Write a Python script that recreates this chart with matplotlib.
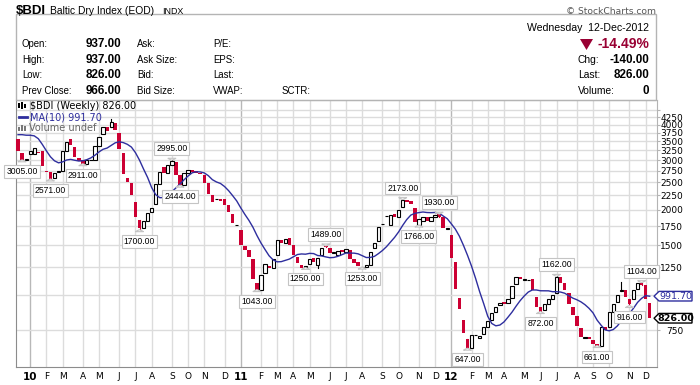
import numpy as np
import pandas as pd
import matplotlib
matplotlib.use("Agg")
import matplotlib.pyplot as plt
from matplotlib.patches import Rectangle, Polygon
from matplotlib.ticker import FixedLocator, NullLocator, FixedFormatter

W, H = 700, 385

# weekly candles, week of 14-Dec-2009 .. week of 10-Dec-2012
opens = [3560, 3170, 3000, 3140, 3150, 3200, 3240, 2745, 2730, 2590,
         2720, 2745, 3230, 3550, 3345, 3040, 3000, 2911, 2990, 3000,
         3365, 3700, 3920, 3920, 4060, 3730, 3170, 2600, 2495, 2135,
         1840, 1725, 1830, 1965, 2105, 2470, 2840, 2700, 2880, 2960,
         2656, 2448, 2700, 2770, 2740, 2700, 2656, 2480, 2256, 2175,
         2180, 2180, 2079, 1940, 1762, 1695, 1490, 1440, 1335, 1097,
         1043, 1191, 1265, 1240, 1383, 1563, 1520, 1590, 1500, 1365,
         1274, 1250, 1285, 1345, 1274, 1383, 1489, 1470, 1408, 1385,
         1440, 1420, 1440, 1335, 1310, 1253, 1258, 1274, 1470, 1550,
         1776, 1895, 1770, 1930, 1890, 2040, 2166, 2150, 2030, 1766,
         1830, 1880, 1820, 1880, 1930, 1890, 1712, 1628, 1310, 975,
         812, 700, 650, 718, 705, 727, 770, 815, 871, 919,
         945, 932, 971, 1096, 1158, 1130, 1128, 1140, 984, 905,
         883, 930, 965, 1018, 1153, 1103, 1011, 908, 840, 760,
         705, 707, 690, 667, 661, 766, 770, 871, 940, 1035,
         1040, 963, 963, 1049, 1098, 1082, 937]
closes = [3240, 3005, 3020, 3230, 3300, 3170, 2860, 2720, 2571, 2700,
          2750, 3230, 3480, 3385, 3085, 2985, 2911, 3000, 3010, 3365,
          3612, 3920, 3810, 4080, 3830, 3275, 2685, 2515, 2256, 1880,
          1725, 1825, 1955, 2030, 2470, 2730, 2700, 2880, 2980, 2655,
          2448, 2690, 2760, 2720, 2710, 2685, 2480, 2280, 2135, 2185,
          2140, 2079, 1960, 1790, 1770, 1500, 1440, 1365, 1133, 1043,
          1174, 1290, 1240, 1335, 1563, 1520, 1580, 1500, 1383, 1300,
          1240, 1262, 1335, 1310, 1345, 1470, 1475, 1410, 1413, 1425,
          1420, 1450, 1335, 1300, 1265, 1258, 1274, 1420, 1530, 1735,
          1784, 1905, 1910, 1890, 2000, 2166, 2130, 2100, 1810, 1850,
          1880, 1820, 1890, 1920, 1890, 1720, 1718, 1345, 1050, 888,
          730, 650, 718, 722, 715, 768, 808, 863, 902, 938,
          927, 970, 1070, 1153, 1134, 1135, 1131, 1040, 902, 872,
          927, 963, 998, 1153, 1103, 1040, 927, 848, 775, 710,
          710, 695, 668, 661, 766, 750, 871, 927, 998, 1040,
          980, 930, 1039, 1098, 1082, 966, 826]
# closes before the first visible week, only to warm up the MA(10)
prior_closes = [3000, 3180, 3240, 3480, 4000, 4500, 4450, 4100, 3700]

# the few wicks that show
wick_idx = [23, 30, 38, 40, 74, 76, 95, 104, 111, 133, 149, 151, 154]
wick_lo = [3920, 1700, 2880, 2444, 1240, 1475, 2040, 1890, 647, 1018, 1030, 916, 1082]
wick_hi = [4209, 1840, 2995, 2656, 1345, 1489, 2173, 1930, 700, 1162, 1110, 963, 1104]

# value call-outs
note_idx = [1, 8, 16, 30, 38, 40, 59, 71, 76, 85, 95, 99, 104, 111, 129, 133, 143, 151, 154]
note_val = [3005, 2571, 2911, 1700, 2995, 2444, 1043, 1250, 1489, 1253, 2173, 1766, 1930,
            647, 872, 1162, 661, 916, 1104]
note_up = [0, 0, 0, 0, 1, 0, 0, 0, 1, 0, 1, 0, 1, 0, 0, 1, 0, 0, 1]

y_ticks = [750, 1000, 1250, 1500, 1750, 2000, 2250, 2500, 2750, 3000, 3250, 3500, 3750, 4000, 4250, 4500]
y_labels = ["750", "", "1250", "1500", "1750", "2000", "2250", "2500", "2750", "3000",
            "3250", "3500", "3750", "4000", "4250", ""]

head_labels = ["Open:", "High:", "Low:", "Prev Close:"]
head_values = ["937.00", "937.00", "826.00", "966.00"]
head_col2 = ["Ask:", "Ask Size:", "Bid:", "Bid Size:"]
head_col3 = ["P/E:", "EPS:", "Last:", "VWAP:"]
right_labels = ["Chg:", "Last:", "Volume:"]
right_values = ["-140.00", "826.00", "0"]

RED = "#cc0033"
NAVY = "#2e2e9e"
GRID = "#dcdcdc"

dates = pd.date_range("2009-12-14", periods=len(closes), freq="W-MON")
x = np.arange(len(closes))
o = np.array(opens, float)
c = np.array(closes, float)
ma = pd.Series(prior_closes + closes).rolling(10).mean().iloc[len(prior_closes):].values

fig = plt.figure(figsize=(W / 100, H / 100), dpi=100)


def fpos(px, py):
    return px / W, 1 - py / H


ax = fig.add_axes([16 / W, 1 - 367 / H, (657 - 16) / W, (367 - 100) / H])
ax.set_yscale("log")
ax.set_ylim(555, 4895)
ax.set_xlim(-0.5, 157.8)

# month grid
month_idx, month_lab, is_year = [], [], []
for i, d in enumerate(dates):
    if i == 0 or d.month != dates[i - 1].month:
        if i == 0 and d.day > 7:
            continue
        month_idx.append(i)
        if d.month == 1:
            month_lab.append(d.strftime("%y"))
            is_year.append(True)
        else:
            month_lab.append(d.strftime("%b")[0])
            is_year.append(False)
for i, yr in zip(month_idx, is_year):
    ax.axvline(i, color="#b8b8b8" if yr else GRID, lw=1, zorder=0)
for v in y_ticks:
    ax.axhline(v, color=GRID, lw=1, zorder=0)

# candles
up = c >= o
bot = np.minimum(o, c)
top = np.maximum(o, c)
hgt = np.maximum(top - bot, bot * 0.004)
for k, lo, hi in zip(wick_idx, wick_lo, wick_hi):
    ax.plot([k, k], [lo, hi], color="black" if up[k] else RED, lw=0.8, zorder=2)
ax.bar(x[~up], hgt[~up], bottom=bot[~up], width=0.88, color=RED, lw=0, zorder=3)
ax.bar(x[up], hgt[up], bottom=bot[up], width=0.8, facecolor="white",
       edgecolor="black", lw=0.8, zorder=3)

ax.plot(x, ma, color=NAVY, lw=1.0, zorder=4)

# call-outs
for k, v, u in zip(note_idx, note_val, note_up):
    ax.annotate(f"{v:.2f}", xy=(k, v), xytext=(0, 8.3 if u else -8.3),
                textcoords="offset points", ha="center", va="center",
                fontsize=6.2, family="Liberation Sans", zorder=6,
                bbox=dict(boxstyle="square,pad=0.22", fc="white", ec="#c4c4c4", lw=0.8),
                arrowprops=dict(arrowstyle="wedge,tail_width=0.9,shrink_factor=0.6",
                                fc="white", ec="#c4c4c4", lw=0.8, shrinkB=0))

# axes styling
for s in ["top", "right"]:
    ax.spines[s].set_color("#b4b4b4")
for s in ["left", "bottom"]:
    ax.spines[s].set_color("#8c8c8c")
ax.yaxis.tick_right()
ax.yaxis.set_major_locator(FixedLocator(y_ticks))
ax.yaxis.set_major_formatter(FixedFormatter(y_labels))
ax.yaxis.set_minor_locator(NullLocator())
ax.tick_params(axis="y", which="major", length=2, color="#b4b4b4", pad=16.7,
               labelsize=6.5, labelcolor="black")
for t in ax.get_yticklabels():
    t.set_horizontalalignment("right")
ax.set_xticks(month_idx)
ax.set_xticklabels(month_lab)
ax.tick_params(axis="x", length=0, pad=3.5, labelsize=6.5)
for t, yr in zip(ax.get_xticklabels(), is_year):
    if yr:
        t.set_fontweight("bold")
        t.set_fontsize(7.5)

# price / MA tags on the right
def tag(val, text, ec, tc, bold):
    fx, fy = fig.transFigure.inverted().transform(ax.transData.transform((0, val)))
    hh = 4.8 / H
    pts = [(654 / W, fy), (659 / W, fy + hh), (692 / W, fy + hh),
           (692 / W, fy - hh), (659 / W, fy - hh)]
    fig.patches.append(Polygon(pts, closed=True, transform=fig.transFigure,
                               fc="white", ec=ec, lw=1.0, zorder=5))
    fig.text(675.5 / W, fy, text, ha="center", va="center", fontsize=6.8,
             color=tc, fontweight="bold" if bold else "normal", zorder=6)


tag(ma[-1], "991.70", NAVY, NAVY, False)
tag(c[-1], "826.00", "black", "black", True)

# legend in the plot corner
fig.text(*fpos(30, 106), "$BDI (Weekly) 826.00", fontsize=7, va="center", color="black")
fig.text(*fpos(30, 117), "MA(10) 991.70", fontsize=7, va="center", color=NAVY)
fig.text(*fpos(29, 128), "Volume undef", fontsize=7, va="center", color="#666666")
for px0, py0, ph, col in [(18, 103, 5, "black"), (21, 102, 7, "black"), (24, 104, 4, "black"),
                          (18, 127, 4, "#777777"), (21, 125, 6, "#777777"), (24, 126, 5, "#777777")]:
    fx0, fy0 = fpos(px0, py0 + ph)
    fig.patches.append(Rectangle((fx0, fy0), 2 / W, ph / H, transform=fig.transFigure,
                                 fc=col, ec="none", zorder=5))
fig.lines.append(plt.Line2D([19 / W, 27 / W], [1 - 117 / H] * 2, transform=fig.transFigure,
                            color=NAVY, lw=2))

# header block
fig.patches.append(Rectangle(fpos(16, 100), (656 - 16) / W, (100 - 14) / H,
                             transform=fig.transFigure, fc="none", ec="#b4b4b4", lw=1))
fig.text(*fpos(16, 11.5), "$BDI", fontsize=9.5, fontweight="bold", va="center",
         family="Liberation Sans")
fig.text(*fpos(50, 11.5), "Baltic Dry Index (EOD)", fontsize=7.4, va="center",
         family="Liberation Sans")
fig.text(*fpos(162, 12), "INDX", fontsize=6.4, va="center", family="Liberation Sans")
fig.text(*fpos(656, 12), "\u00a9 StockCharts.com", fontsize=6.6, ha="right", va="center",
         color="#555555")
rows_y = [44, 60, 75.5, 91]
for yy, a, b, cc, d in zip(rows_y, head_labels, head_values, head_col2, head_col3):
    fig.text(*fpos(22, yy), a, fontsize=6.9, va="center", family="Liberation Sans")
    fig.text(*fpos(121, yy), b, fontsize=8.4, fontweight="bold", ha="right", va="center",
             family="Liberation Sans")
    fig.text(*fpos(137, yy), cc, fontsize=6.9, va="center", family="Liberation Sans")
    fig.text(*fpos(213, yy), d, fontsize=6.9, va="center", family="Liberation Sans")
fig.text(*fpos(282, 91), "SCTR:", fontsize=6.9, va="center", family="Liberation Sans")

fig.text(*fpos(649, 28), "Wednesday  12-Dec-2012", fontsize=7.6, ha="right", va="center",
         family="Liberation Sans")
fig.text(*fpos(649, 44), "-14.49%", fontsize=10, fontweight="bold", ha="right", va="center",
         color="#990033", family="Liberation Sans")
fig.patches.append(Polygon([fpos(580, 39), fpos(593, 39), fpos(586.5, 50)], closed=True,
                           transform=fig.transFigure, fc="#990033", ec="none"))
for yy, a, b in zip(rows_y[1:], right_labels, right_values):
    fig.text(*fpos(578, yy), a, fontsize=7.4, va="center", family="Liberation Sans")
    fig.text(*fpos(649, yy), b, fontsize=8.4, fontweight="bold", ha="right", va="center",
             family="Liberation Sans")

fig.savefig("out.png", dpi=100, facecolor="white")
